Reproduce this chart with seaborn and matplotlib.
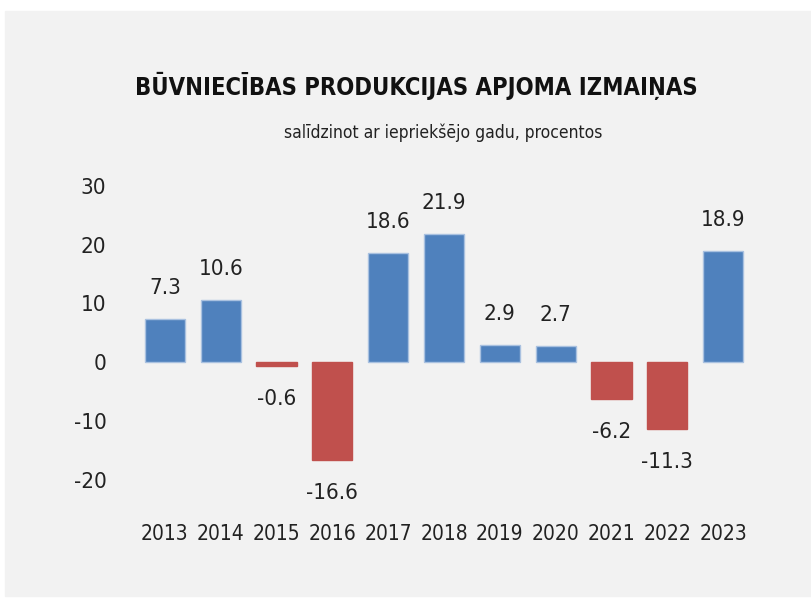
import pandas as pd
import matplotlib.pyplot as plt
import matplotlib.patches as mpatches
import seaborn as sns

years = ['2013', '2014', '2015', '2016', '2017', '2018', '2019', '2020', '2021', '2022', '2023']
change = [7.3, 10.6, -0.6, -16.6, 18.6, 21.9, 2.9, 2.7, -6.2, -11.3, 18.9]
title = 'BŪVNIECĪBAS PRODUKCIJAS APJOMA IZMAIŅAS'
subtitle = 'salīdzinot ar iepriekšējo gadu, procentos'

df = pd.DataFrame({'year': years, 'change': change})

sns.set_style('white')
plt.rcParams['font.family'] = ['DejaVu Sans']
plt.rcParams['font.stretch'] = 'condensed'
plt.rcParams['axes.unicode_minus'] = False

fig = plt.figure(figsize=(8.11, 5.99), dpi=100)
fig.patches.append(mpatches.Rectangle((5 / 811, 3 / 599), 806 / 811, 585 / 599,
                                      transform=fig.transFigure, color='#f2f2f2', zorder=-5))
ax = fig.add_axes([137 / 811, 1 - 509 / 599, 614 / 811, 323 / 599])
ax.set_facecolor('none')

colors = ['#4f81bd' if v >= 0 else '#c0504d' for v in change]
sns.barplot(data=df, x='year', y='change', hue='year', palette=colors, legend=False,
            width=0.72, ax=ax, linewidth=1, edgecolor='#a9c1e0', saturation=1)
for bar, v in zip(ax.patches, change):
    if v < 0:
        bar.set_edgecolor('#c0504d')

for i, v in enumerate(change):
    ax.annotate(f'{v:.1f}', (i, v), xytext=(0, 15 if v >= 0 else -17), textcoords='offset points',
                ha='center', va='bottom' if v >= 0 else 'top', fontsize=16, color='#222222')

ax.set_ylim(-25, 30)
ax.set_yticks([-20, -10, 0, 10, 20, 30])
ax.set_xlim(-0.5, 10.5)
ax.set_xlabel('')
ax.set_ylabel('')
sns.despine(left=True, bottom=True)
ax.tick_params(length=0, labelsize=16, labelcolor='#222222')
ax.tick_params(axis='x', pad=11, labelsize=15)
ax.tick_params(axis='y', pad=22)

fig.text(416 / 811, 1 - 86 / 599, title, ha='center', va='center', fontsize=17, fontweight='bold', color='#111111')
fig.text(443 / 811, 1 - 133 / 599, subtitle, ha='center', va='center', fontsize=12.5, color='#222222')

fig.savefig('out.png', dpi=100)
